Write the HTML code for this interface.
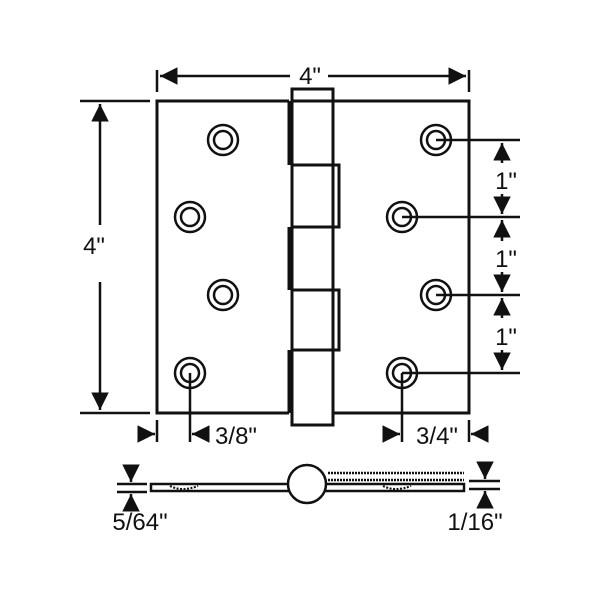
<!DOCTYPE html>
<html><head><style>body{margin:0;background:#fff}svg{display:block}text{font-family:"Liberation Sans",sans-serif;fill:#111}</style></head><body>
<svg width="600" height="600" viewBox="0 0 600 600" xmlns="http://www.w3.org/2000/svg">
<defs>
<marker id="a" viewBox="0 0 10 10" refX="10" refY="5" markerWidth="7" markerHeight="7" orient="auto-start-reverse"><path d="M0,0L10,5L0,10z" fill="#111"/></marker>
</defs>
<g stroke="#111" stroke-width="3" fill="none">
<path d="M289,101H157V413H289"/>
<path d="M333,101H469V413H333"/>
<rect x="292" y="89" width="41" height="336" fill="#fff"/>
<path d="M289,101V165M289,227V290M289,350V413"/>
<path d="M292,165H339V227H292M292,290H339V350H292M292,227H333M292,350H333"/>
<path d="M292,101H333"/>
<g stroke-width="2.5">
<circle cx="223" cy="140" r="15"/><circle cx="223" cy="140" r="9"/>
<circle cx="190" cy="217" r="15"/><circle cx="190" cy="217" r="9"/>
<circle cx="223" cy="295" r="15"/><circle cx="223" cy="295" r="9"/>
<circle cx="190" cy="373" r="15"/><circle cx="190" cy="373" r="9"/>
<circle cx="436" cy="140" r="15"/><circle cx="436" cy="140" r="9"/>
<circle cx="402" cy="217" r="15"/><circle cx="402" cy="217" r="9"/>
<circle cx="436" cy="295" r="15"/><circle cx="436" cy="295" r="9"/>
<circle cx="402" cy="373" r="15"/><circle cx="402" cy="373" r="9"/>
</g>
</g>
<g stroke="#111" stroke-width="2.5" fill="none">
<path d="M157,70V92M469,70V92"/>
<path d="M160,76H290" marker-start="url(#a)"/>
<path d="M328,76H466" marker-end="url(#a)"/>
<path d="M80,101H150M80,413H150"/>
<path d="M100,104V225" marker-start="url(#a)"/>
<path d="M100,282V410" marker-end="url(#a)"/>
<path d="M436,140H520M402,217H520M436,295H520M402,373H520"/>
<path d="M502,143V163" marker-start="url(#a)"/>
<path d="M502,194V214" marker-end="url(#a)"/>
<path d="M502,220V241" marker-start="url(#a)"/>
<path d="M502,272V292" marker-end="url(#a)"/>
<path d="M502,298V318" marker-start="url(#a)"/>
<path d="M502,350V370" marker-end="url(#a)"/>
<path d="M157,420V442M190,373V442M402,373V442M469,420V442"/>
<path d="M143,434H155" marker-end="url(#a)"/>
<path d="M205,434H192" marker-end="url(#a)"/>
<path d="M389,434H400" marker-end="url(#a)"/>
<path d="M483,434H471" marker-end="url(#a)"/>
<rect x="151" y="484" width="140" height="7" fill="#fff"/>
<rect x="324" y="484" width="140" height="7" fill="#fff"/>
<circle cx="307" cy="484" r="19" fill="#fff"/>
<path d="M328,473H464M328,480H464" stroke-dasharray="2,1" stroke-width="2.5"/>
<path d="M170,486q12,6 28,0M383,486q12,6 28,0" stroke-width="2" stroke-dasharray="2,1.5"/>
<path d="M117,484H147M117,492H147M469,481H500M469,489H500"/>
<path d="M131,470V482" marker-end="url(#a)"/>
<path d="M131,506V494" marker-end="url(#a)"/>
<path d="M485,465V479" marker-end="url(#a)"/>
<path d="M485,504V491" marker-end="url(#a)"/>
</g>
<g font-size="24">
<text x="310" y="84" text-anchor="middle">4"</text>
<text x="94" y="254" text-anchor="middle">4"</text>
<text x="506" y="189" text-anchor="middle">1"</text>
<text x="506" y="267" text-anchor="middle">1"</text>
<text x="506" y="345" text-anchor="middle">1"</text>
<text x="236" y="444" text-anchor="middle">3/8"</text>
<text x="437" y="444" text-anchor="middle">3/4"</text>
<text x="140" y="530" text-anchor="middle">5/64"</text>
<text x="475" y="530" text-anchor="middle">1/16"</text>
</g>
</svg>
</body></html>
